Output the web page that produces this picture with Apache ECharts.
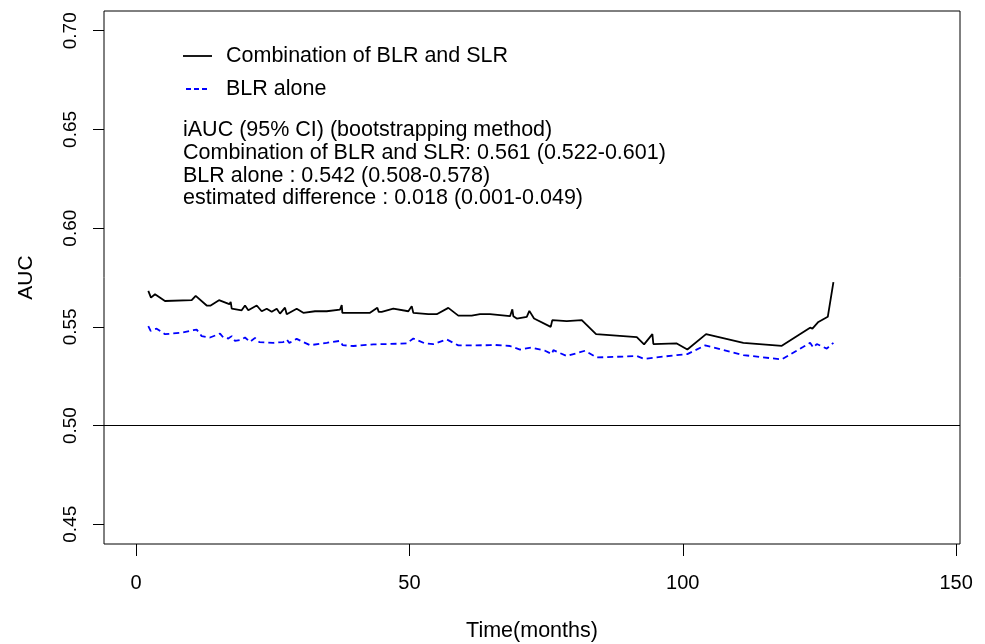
<!DOCTYPE html>
<html>
<head>
<meta charset="utf-8">
<script src="https://cdn.jsdelivr.net/npm/echarts@6/dist/echarts.min.js"></script>
<style>
html,body{margin:0;padding:0;background:#fff;}
#chart{width:985px;height:644px;}
</style>
</head>
<body>
<div id="chart"></div>
<script>
// Time (months) and AUC values
var comboT = [2.25,2.74,3.48,5.30,10.19,10.92,12.93,13.66,15.18,17.07,17.32,17.51,17.80,19.33,19.94,20.54,22.08,22.99,23.91,24.82,25.74,26.34,27.25,27.57,29.39,30.60,32.74,34.88,37.31,37.63,37.74,42.80,44.14,44.39,44.94,47.06,49.81,50.43,50.72,53.47,55.00,57.12,58.95,61.40,62.92,64.75,68.41,68.83,69.01,69.64,71.47,71.94,72.80,75.85,76.14,78.78,81.53,84.14,91.59,92.92,94.44,94.62,98.90,100.84,104.26,111.08,118.11,123.28,123.71,124.80,126.52,127.55];
var comboV = [0.5682,0.5648,0.5665,0.5631,0.5635,0.5657,0.5608,0.5608,0.5635,0.5615,0.5626,0.5592,0.5584,0.5584,0.5608,0.5584,0.5608,0.5579,0.5592,0.5576,0.5592,0.5567,0.5597,0.5564,0.5592,0.5571,0.5579,0.5579,0.5587,0.5610,0.5571,0.5571,0.5597,0.5576,0.5576,0.5592,0.5579,0.5605,0.5571,0.5564,0.5564,0.5596,0.5557,0.5557,0.5564,0.5564,0.5554,0.5589,0.5554,0.5542,0.5551,0.5581,0.5542,0.5500,0.5534,0.5529,0.5534,0.5463,0.5448,0.5411,0.5463,0.5413,0.5416,0.5385,0.5463,0.5419,0.5404,0.5496,0.5491,0.5525,0.5551,0.5727];
var blrT = [2.25,2.68,3.78,5.30,8.36,10.49,11.10,12.01,13.54,15.37,15.97,16.88,17.51,18.11,19.02,19.94,20.85,21.77,22.55,25.11,26.94,27.57,28.04,29.39,30.60,31.83,34.88,37.31,37.81,39.75,43.41,49.51,50.72,52.86,54.38,56.83,58.95,64.75,65.36,68.41,70.24,72.38,74.81,76.04,76.33,78.78,82.13,84.27,91.59,92.92,98.90,100.84,104.08,111.08,118.11,122.06,123.28,123.89,124.51,126.34,127.55];
var blrV = [0.5504,0.5480,0.5491,0.5463,0.5470,0.5483,0.5486,0.5453,0.5446,0.5466,0.5446,0.5441,0.5453,0.5429,0.5433,0.5446,0.5424,0.5444,0.5423,0.5419,0.5423,0.5436,0.5419,0.5439,0.5423,0.5407,0.5419,0.5429,0.5407,0.5403,0.5411,0.5416,0.5441,0.5416,0.5413,0.5436,0.5406,0.5407,0.5409,0.5403,0.5385,0.5395,0.5379,0.5362,0.5382,0.5352,0.5379,0.5345,0.5352,0.5338,0.5357,0.5362,0.5406,0.5357,0.5335,0.5399,0.5419,0.5395,0.5413,0.5390,0.5419];
var xTicks = [0, 50, 100, 150];
var yTicks = [0.45, 0.50, 0.55, 0.60, 0.65, 0.70];
var seriesNames = ['Combination of BLR and SLR', 'BLR alone'];
var annotation = [
  'iAUC (95% CI) (bootstrapping method)',
  'Combination of BLR and SLR: 0.561 (0.522-0.601)',
  'BLR alone : 0.542 (0.508-0.578)',
  'estimated difference : 0.018 (0.001-0.049)'
];
var refLine = 0.5;

function zip(a, b) { return a.map(function (v, i) { return [v, b[i]]; }); }

var FONT = 'Liberation Sans, Arial, sans-serif';
var BLUE = '#0000ff';
var chart = echarts.init(document.getElementById('chart'), null, {renderer: 'canvas'});
chart.setOption({
  backgroundColor: '#fff',
  animation: false,
  grid: {left: 104, right: 25, top: 11, bottom: 100, show: true, borderColor: '#000', borderWidth: 1,
    backgroundColor: 'transparent', containLabel: false, outerBoundsMode: 'none'},
  xAxis: {
    type: 'value', min: -5.85, max: 150.7,
    name: 'Time(months)', nameLocation: 'middle', nameGap: 76,
    nameTextStyle: {fontSize: 21.5, color: '#000', fontFamily: FONT},
    axisLine: {show: false, onZero: false},
    axisTick: {show: true, length: 12, inside: false, customValues: xTicks, lineStyle: {color: '#000', width: 1}},
    axisLabel: {customValues: xTicks, margin: 29, fontSize: 20, color: '#000', fontFamily: FONT, formatter: function (v) { return String(v); }},
    splitLine: {show: false}
  },
  yAxis: {
    type: 'value', min: 0.44, max: 0.71,
    name: 'AUC', nameLocation: 'middle', nameGap: 67, nameRotate: 90,
    nameTextStyle: {fontSize: 21, color: '#000', fontFamily: FONT},
    axisLine: {show: false, onZero: false},
    axisTick: {show: true, length: 11, inside: false, customValues: yTicks, lineStyle: {color: '#000', width: 1}},
    axisLabel: {customValues: yTicks, rotate: 90, margin: 24, fontSize: 19, color: '#000', fontFamily: FONT,
      align: 'center', verticalAlign: 'bottom', formatter: function (v) { return v.toFixed(2); }},
    splitLine: {show: false}
  },
  graphic: [
    {type: 'line', shape: {x1: 183, y1: 56, x2: 212, y2: 56}, style: {stroke: '#000', lineWidth: 1.8}},
    {type: 'text', left: 226, top: 44, style: {text: seriesNames[0], fontSize: 21.5, lineHeight: 24, fill: '#000', fontFamily: FONT}},
    {type: 'line', shape: {x1: 186, y1: 89, x2: 207, y2: 89}, style: {stroke: BLUE, lineWidth: 1.8, lineDash: [5, 3]}},
    {type: 'text', left: 226, top: 77, style: {text: seriesNames[1], fontSize: 21.5, lineHeight: 24, fill: '#000', fontFamily: FONT}},
    {type: 'text', left: 183, top: 119,
      style: {text: annotation.join('\n'), fontSize: 21.5, lineHeight: 22.7, fill: '#000', fontFamily: FONT}}
  ],
  series: [
    {
      name: seriesNames[0], type: 'line', data: zip(comboT, comboV), symbol: 'none', showSymbol: false,
      lineStyle: {color: '#000', width: 1.8}, itemStyle: {color: '#000'},
      markLine: {silent: true, symbol: 'none', label: {show: false}, lineStyle: {color: '#000', width: 1.2, type: 'solid'}, data: [{yAxis: refLine}]}
    },
    {
      name: seriesNames[1], type: 'line', data: zip(blrT, blrV), symbol: 'none', showSymbol: false,
      lineStyle: {color: BLUE, width: 1.8, type: [6, 4]}, itemStyle: {color: BLUE}
    }
  ]
});
</script>
</body>
</html>
